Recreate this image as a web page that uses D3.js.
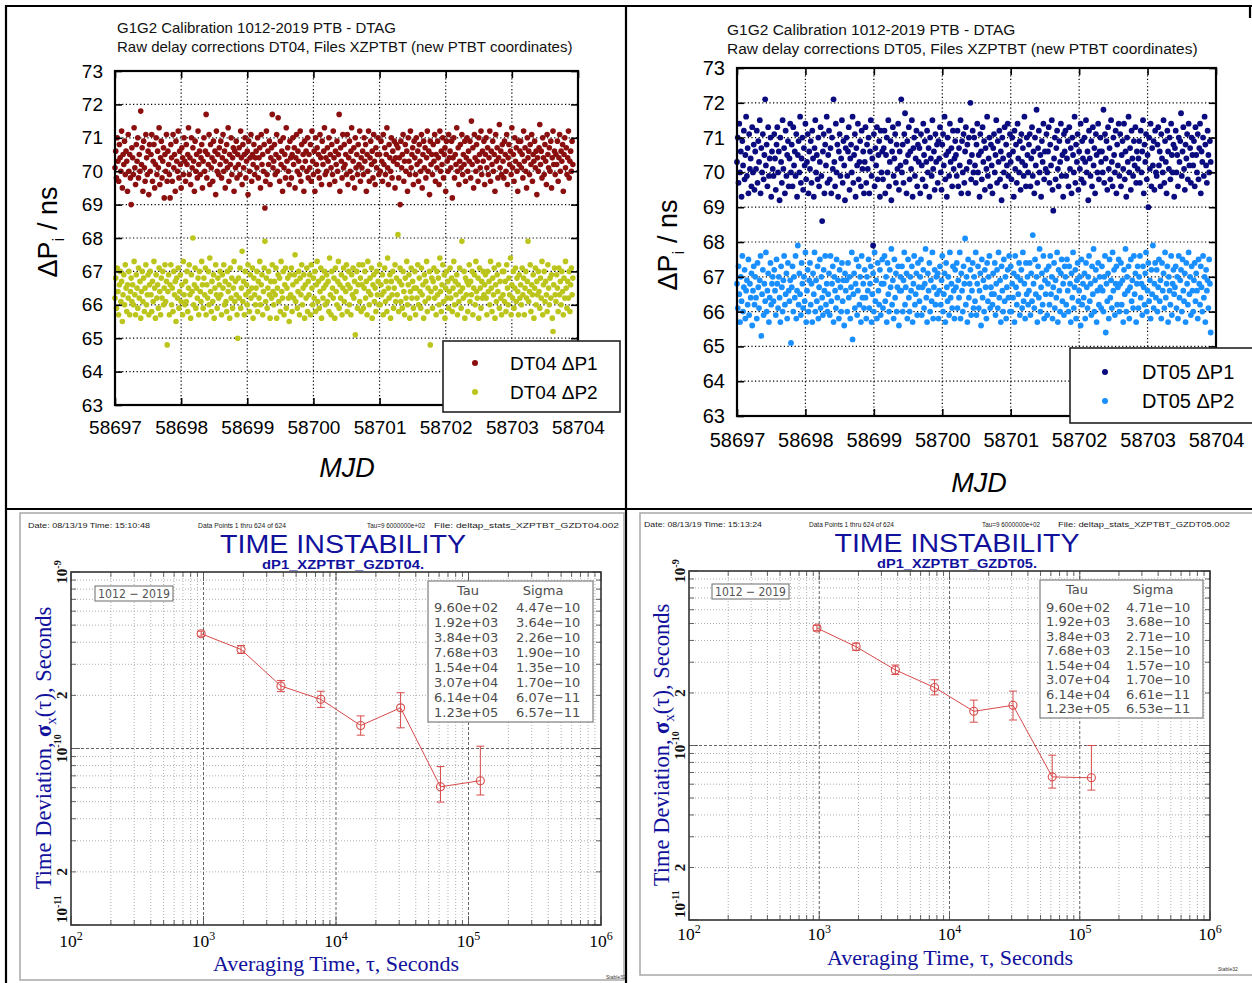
<!DOCTYPE html>
<html lang="en">
<head>
<meta charset="utf-8">
<title>G1G2 Calibration 1012-2019 PTB - DTAG</title>
<script src="https://cdn.jsdelivr.net/npm/d3@7/dist/d3.min.js"></script>
<style>
  html, body { margin: 0; padding: 0; background: #fff; }
  svg { display: block; }
</style>
</head>
<body>
<svg id="chart" width="1252" height="983"></svg>
<script>
// Raw delay corrections, one sample every 960 s from MJD 58697.0,
// stored in units of 0.1 ns.
const mjdStart = 58697;
const sampleSeconds = 960;

const dt04dP1 = [
701,706,698,710,703,697,708,704,700,712,695,705,702,709,699,706,703,694,711,700,705,698,690,707,
704,699,713,701,696,708,703,710,698,705,700,718,702,707,694,709,701,697,711,704,699,706,693,708,
700,705,711,697,703,708,695,702,710,699,706,701,713,696,704,709,698,703,707,692,705,700,711,697,
706,702,699,692,708,704,697,711,701,705,694,709,703,700,712,698,706,702,695,707,704,699,710,703,
697,708,702,705,713,699,704,696,710,701,707,703,694,709,700,705,698,712,702,706,699,704,708,695,
703,710,700,706,717,698,705,702,711,696,708,701,704,697,709,703,706,693,712,700,705,699,707,702,
709,698,704,711,700,706,695,703,708,701,713,697,705,702,710,699,704,707,694,706,701,709,698,705,
702,707,699,712,704,696,708,701,705,710,698,703,706,693,709,700,704,711,697,705,702,708,699,704,
706,701,710,698,704,707,695,711,702,705,700,708,689,697,712,699,706,702,709,696,704,707,717,701,
703,708,699,705,711,700,716,704,697,709,702,706,694,710,701,705,698,713,703,707,700,696,709,704,
698,705,710,702,707,695,704,711,700,706,703,699,712,697,708,701,705,694,709,703,706,700,710,698,
705,701,708,697,712,703,699,706,694,710,702,707,700,705,698,711,704,696,709,702,706,713,699,704,
700,707,703,710,696,705,701,708,699,712,704,697,706,702,709,700,705,717,694,707,703,698,711,701,
708,702,705,699,711,696,704,709,700,706,713,698,703,707,695,710,701,705,699,708,702,712,697,704,
701,706,699,710,703,708,694,705,700,712,697,704,709,702,706,698,711,703,696,707,701,705,710,699,
705,700,709,703,697,711,702,707,699,705,713,701,696,708,704,700,710,698,706,703,709,695,704,708,
702,707,698,704,690,709,701,705,711,697,703,708,700,706,694,710,703,699,712,701,705,707,696,709,
704,699,710,702,706,697,708,703,700,711,695,705,709,701,707,698,704,712,700,706,693,709,702,705,
699,708,703,711,697,705,701,709,704,696,712,700,706,702,710,698,705,707,694,709,703,700,711,704,
706,701,709,692,704,710,698,705,702,713,700,707,696,703,708,701,711,699,705,702,709,697,704,710,
700,706,703,709,698,715,702,707,695,711,704,700,708,703,697,710,705,701,712,699,706,703,709,696,
705,710,701,707,699,704,712,697,706,702,709,700,705,694,711,703,707,698,704,714,701,706,699,708,
703,698,709,705,700,711,696,704,708,702,706,699,713,701,705,697,710,703,707,700,694,709,702,706,
709,701,705,698,712,703,707,700,695,710,704,706,699,708,702,711,697,705,703,709,701,706,693,704,
700,707,714,702,706,698,710,704,699,708,703,696,711,705,701,707,700,709,695,704,712,702,706,699,
705,702,709,697,704,711,700,706,703,708,694,705,710,701,707,699,704,712,698,703,706,700,709,702
];

const dt04dP2 = [
662,668,659,671,664,657,666,670,661,667,655,663,669,660,672,665,658,666,662,670,657,664,668,661,
666,660,673,663,657,669,665,659,671,662,667,656,664,670,661,668,658,665,672,660,663,669,657,666,
670,663,658,667,661,673,665,656,669,662,666,659,671,664,657,668,662,670,660,665,672,661,667,648,
664,669,657,666,672,660,665,658,670,663,667,655,668,662,671,659,664,669,661,666,657,673,663,660,
667,661,670,658,665,672,663,656,669,664,680,660,666,671,659,665,662,668,657,670,664,661,673,666,
659,668,663,671,657,666,662,670,660,674,664,658,667,661,669,656,665,672,663,659,668,662,666,670,
663,657,669,665,672,660,667,661,658,670,664,666,656,671,662,668,659,665,673,661,667,663,657,650,
668,662,671,659,665,676,661,667,657,670,663,666,660,672,664,658,669,662,665,671,656,668,663,660,
665,670,658,667,662,673,660,666,669,657,664,671,679,661,668,659,665,670,663,656,667,662,672,664,
660,667,663,671,656,665,669,661,668,658,673,664,662,670,657,666,671,659,665,668,662,655,669,663,
671,658,666,662,669,675,661,667,659,664,670,657,668,663,672,660,665,669,656,666,662,671,658,667,
663,669,657,672,665,660,668,662,670,658,666,673,661,667,659,664,671,656,668,662,665,670,660,666,
669,661,667,658,674,663,657,670,665,662,668,656,671,664,660,667,673,659,666,662,669,657,665,671,
661,668,664,672,658,666,670,660,665,657,669,663,671,662,667,651,664,670,659,666,672,661,668,658,
666,672,659,665,670,662,667,657,673,664,660,668,663,671,656,666,669,661,665,658,670,663,667,660,
672,660,666,663,669,657,664,671,661,667,658,674,665,662,669,656,667,663,670,659,665,672,661,668,
663,681,658,667,671,661,666,659,670,664,657,668,662,673,660,666,669,656,664,671,662,667,659,665,
670,657,665,662,672,660,668,664,659,671,663,666,656,669,661,667,673,658,665,662,670,648,664,668,
659,667,671,662,665,657,670,663,668,660,674,664,658,666,672,661,669,656,665,670,662,667,659,664,
671,662,668,658,665,673,660,667,663,669,657,666,661,671,664,659,679,665,662,670,656,668,663,667,
658,666,672,661,667,663,670,657,665,669,660,673,664,662,668,656,671,665,659,667,662,670,663,666,
669,662,657,670,664,667,660,673,665,658,668,663,671,656,666,661,669,664,672,659,667,662,657,670,
663,670,661,667,658,672,665,660,668,663,674,657,666,662,670,659,665,671,661,668,664,657,669,662,
666,660,671,663,668,657,665,670,662,667,679,661,664,672,658,666,663,669,656,665,671,660,667,663,
670,664,659,668,662,673,657,666,670,661,667,663,658,672,665,660,668,662,669,656,652,666,671,663,
661,669,665,658,671,663,667,660,670,664,657,668,662,673,665,659,667,662,670,658,666,671,663,668
];

const dt05dP1 = [
703,710,697,714,700,706,693,709,702,712,698,705,716,699,707,694,711,701,704,696,713,700,708,695,
706,701,712,697,709,703,715,694,707,700,711,698,705,721,702,708,696,713,699,704,710,693,706,701,
699,711,704,695,708,713,700,706,692,710,703,697,715,701,707,694,712,699,705,709,696,704,714,700,
708,696,713,702,706,699,711,693,705,709,700,716,697,704,710,695,707,702,714,698,703,711,694,706,
701,709,697,712,704,693,707,715,700,705,698,710,696,703,713,699,686,706,711,694,708,702,716,697,
705,712,698,707,694,710,701,721,703,696,714,700,708,693,706,711,699,704,715,697,709,702,692,707,
710,699,706,713,695,704,708,700,716,697,705,711,693,707,702,714,698,703,709,696,712,701,706,694,
703,713,697,708,701,710,694,706,715,699,704,679,711,696,707,702,713,698,705,709,693,712,700,706,
698,707,712,694,705,710,700,715,696,703,709,692,706,713,699,704,711,697,708,701,714,695,706,702,
721,700,708,697,711,717,703,694,709,705,713,698,706,701,715,693,707,710,699,704,712,696,708,703,
707,694,711,702,698,714,705,709,696,703,712,700,707,693,710,704,699,715,701,706,695,711,703,708,
697,709,704,713,700,695,708,711,702,716,698,705,693,710,706,699,714,703,707,696,712,701,704,709,
705,699,712,696,707,702,715,694,709,700,711,697,706,713,701,708,694,710,703,720,698,705,712,700,
710,702,697,708,714,700,705,693,711,706,698,713,703,709,695,707,701,716,699,704,710,696,708,702,
694,707,711,700,705,715,697,709,703,712,698,706,692,710,704,700,713,696,708,702,714,699,705,711,
703,698,710,706,693,712,701,708,697,714,704,700,709,695,711,703,707,699,716,702,696,710,705,700,
708,711,696,704,713,699,706,694,710,702,718,697,707,712,700,705,693,709,703,714,698,706,701,711,
700,706,713,697,708,702,715,695,689,704,710,698,707,712,701,696,709,703,714,699,705,693,711,706,
712,699,704,709,696,713,701,707,694,710,705,700,716,697,708,703,711,695,706,701,714,698,709,704,
697,710,703,715,700,706,692,712,704,699,709,696,713,702,707,694,711,705,700,714,698,706,710,703,
706,700,718,697,711,704,709,695,713,701,707,698,715,703,696,710,705,700,712,694,708,702,714,699,
711,696,705,709,701,714,698,706,693,710,703,716,700,707,695,712,704,699,709,702,713,697,706,701,
704,709,697,712,700,706,715,694,708,703,711,698,705,690,710,701,714,696,707,702,709,695,712,700,
699,708,713,702,706,696,711,704,700,715,697,709,703,694,712,706,701,710,698,714,705,700,708,693,
707,712,700,705,696,710,703,709,717,699,706,713,701,695,708,704,711,698,714,702,707,697,710,705,
702,709,696,713,705,700,711,698,707,714,694,706,703,710,699,716,708,702,697,712,705,700,709,703
];

const dt05dP2 = [
668,661,673,665,657,670,663,676,660,667,672,658,666,669,662,675,659,668,664,671,656,666,673,662,
670,664,658,674,667,661,669,676,653,665,672,659,668,663,677,660,666,671,657,664,674,662,668,670,
663,672,666,659,675,668,661,670,664,657,673,667,660,669,676,662,665,671,658,674,666,663,669,651,
667,673,660,670,664,676,658,666,679,662,671,665,659,674,668,661,670,663,677,657,666,672,660,669,
674,662,668,657,671,665,677,660,669,663,673,658,667,675,661,670,664,659,672,666,676,662,668,660,
665,671,659,676,663,668,673,657,670,666,661,675,664,669,658,672,667,660,674,663,669,656,671,666,
669,660,674,664,670,658,667,677,652,665,671,661,668,675,659,666,673,662,670,657,676,664,668,661,
672,664,658,670,666,675,661,668,673,657,665,671,660,677,663,669,658,674,666,662,672,659,668,675,
661,668,676,663,670,657,674,665,660,672,667,678,662,669,658,675,664,671,660,667,673,656,666,670,
666,673,660,669,677,662,667,671,658,675,664,660,670,666,673,657,668,676,662,665,671,659,674,667,
663,670,675,659,667,672,661,668,678,664,657,671,666,674,660,669,663,677,658,667,672,662,670,665,
671,658,666,673,662,669,676,660,665,671,657,674,667,663,670,659,677,664,668,661,673,666,658,672,
667,674,661,669,664,677,658,671,666,660,673,668,681,662,670,657,675,664,668,672,659,666,674,661,
670,663,677,659,668,673,661,666,671,656,675,664,669,660,672,667,658,674,663,670,676,661,667,665,
662,671,665,674,659,668,672,661,677,664,669,657,673,666,660,675,663,670,658,667,672,664,676,660,
673,660,668,664,671,657,676,667,662,670,665,674,659,669,672,661,677,663,668,658,674,665,670,662,
666,674,659,671,663,682,668,661,675,665,670,657,673,664,678,660,667,671,662,676,658,669,665,672,
659,668,673,662,676,665,670,658,667,674,661,669,664,677,657,672,666,660,671,675,663,668,659,673,
670,662,675,666,660,673,668,657,671,664,677,661,667,672,658,669,674,663,666,670,656,675,662,668,
664,671,658,674,667,661,670,676,663,668,659,673,665,678,660,669,672,657,666,674,662,670,667,661,
673,666,660,670,676,654,668,663,671,658,675,664,669,661,677,666,672,659,668,673,662,667,675,660,
668,674,662,669,657,672,665,678,660,670,666,673,658,667,675,663,669,661,676,665,671,657,668,673,
661,670,676,664,668,659,673,667,662,671,677,660,666,674,663,669,658,672,665,679,661,668,674,664,
672,660,667,675,663,669,658,674,666,671,661,677,664,668,673,657,670,666,662,676,659,668,672,665,
667,673,661,670,658,676,664,669,672,660,675,666,663,671,657,674,668,662,677,665,670,659,673,666,
660,669,674,663,671,666,658,675,668,662,673,667,660,676,664,670,657,672,666,669,661,675,668,654
];

const mjdTicks = [58697, 58698, 58699, 58700, 58701, 58702, 58703, 58704];
const nsTicks = [63, 64, 65, 66, 67, 68, 69, 70, 71, 72, 73];

// Time deviation of dP1 from Stable32, with confidence bounds
const tauSeconds = [960, 1920, 3840, 7680, 15360, 30720, 61440, 122880];
const sigmaDT04   = [4.47e-10, 3.64e-10, 2.26e-10, 1.90e-10, 1.35e-10, 1.70e-10, 6.07e-11, 6.57e-11];
const sigmaLoDT04 = [4.33e-10, 3.46e-10, 2.10e-10, 1.71e-10, 1.19e-10, 1.31e-10, 4.97e-11, 5.45e-11];
const sigmaHiDT04 = [4.62e-10, 3.83e-10, 2.43e-10, 2.11e-10, 1.53e-10, 2.07e-10, 7.90e-11, 1.03e-10];
const sigmaDT05   = [4.71e-10, 3.68e-10, 2.71e-10, 2.15e-10, 1.57e-10, 1.70e-10, 6.61e-11, 6.53e-11];
const sigmaLoDT05 = [4.55e-10, 3.51e-10, 2.55e-10, 1.95e-10, 1.36e-10, 1.40e-10, 5.70e-11, 5.55e-11];
const sigmaHiDT05 = [4.88e-10, 3.86e-10, 2.89e-10, 2.38e-10, 1.82e-10, 2.05e-10, 8.80e-11, 1.00e-10];
const tauAxisTicks = [1e2, 1e3, 1e4, 1e5, 1e6];
const sigmaAxisTicks = [1e-11, 2e-11, 1e-10, 2e-10, 1e-9];

const SANS = '"Liberation Sans", Arial, Helvetica, sans-serif';
const NARROW = '"Liberation Sans Narrow", "Liberation Sans", Arial, sans-serif';
const SERIF = '"Liberation Serif", "Times New Roman", serif';
const TABLE_FONT = '"DejaVu Sans", "Liberation Sans", sans-serif';

const svg = d3.select('#chart');

// ---- outer panel dividers ----
const dividers = [[5, 6, 1252, 6], [6, 5, 6, 983], [626, 5, 626, 983], [5, 509, 1252, 509], [1250, 5, 1250, 18]];
svg.append('g').selectAll('line').data(dividers).join('line')
  .attr('x1', d => d[0]).attr('y1', d => d[1]).attr('x2', d => d[2]).attr('y2', d => d[3])
  .attr('stroke', '#000').attr('stroke-width', 2.2);

// ---- scatter panels (delay corrections vs MJD) ----
function scatterPanel(o) {
  const x = d3.scaleLinear().domain(d3.extent(mjdTicks)).range([o.x0, o.x1]);
  const y = d3.scaleLinear().domain(d3.extent(nsTicks)).range([o.y1, o.y0]);
  const g = svg.append('g');

  // titles
  o.titles.forEach((t, i) => {
    g.append('text').attr('x', o.titleX).attr('y', o.titleY[i])
      .attr('font-family', SANS).attr('font-size', o.titleFont).attr('fill', '#111').text(t);
  });

  // dotted grid
  g.append('g').selectAll('line').data(mjdTicks.slice(1, -1)).join('line')
    .attr('x1', d => x(d)).attr('x2', d => x(d)).attr('y1', o.y0).attr('y2', o.y1)
    .attr('stroke', '#000').attr('stroke-width', 1.2).attr('stroke-dasharray', '1.2,2.4');
  g.append('g').selectAll('line').data(nsTicks.slice(1, -1)).join('line')
    .attr('y1', d => y(d)).attr('y2', d => y(d)).attr('x1', o.x0).attr('x2', o.x1)
    .attr('stroke', '#000').attr('stroke-width', 1.2).attr('stroke-dasharray', '1.2,2.4');

  // points
  const mjdOf = i => mjdStart + i * sampleSeconds / 86400;
  o.series.forEach(s => {
    g.append('g').attr('fill', s.color).selectAll('circle').data(s.values).join('circle')
      .attr('cx', (d, i) => x(mjdOf(i))).attr('cy', d => y(d / 10)).attr('r', o.r);
  });

  // axes with inward ticks
  const fmt = d3.format('d');
  const axes = [
    g.append('g').attr('transform', `translate(0,${o.y1})`)
      .call(d3.axisBottom(x).tickValues(mjdTicks).tickFormat(fmt).tickSize(-7).tickPadding(o.xPad)),
    g.append('g').attr('transform', `translate(0,${o.y0})`)
      .call(d3.axisTop(x).tickValues(mjdTicks).tickFormat('').tickSize(-7)),
    g.append('g').attr('transform', `translate(${o.x0},0)`)
      .call(d3.axisLeft(y).tickValues(nsTicks).tickFormat(fmt).tickSize(-7).tickPadding(12)),
    g.append('g').attr('transform', `translate(${o.x1},0)`)
      .call(d3.axisRight(y).tickValues(nsTicks).tickFormat('').tickSize(-7))
  ];
  axes.forEach(a => {
    a.attr('font-family', SANS).attr('font-size', o.tickFont);
    a.select('.domain').remove();
    a.selectAll('.tick line').attr('stroke', '#000').attr('stroke-width', 1.6);
    a.selectAll('.tick text').attr('fill', '#000');
  });

  // frame
  g.append('rect').attr('x', o.x0).attr('y', o.y0).attr('width', o.x1 - o.x0).attr('height', o.y1 - o.y0)
    .attr('fill', 'none').attr('stroke', '#000').attr('stroke-width', 2.2);

  // y-axis label  ΔP_i / ns
  const yl = g.append('text')
    .attr('transform', `translate(${o.ylX},${o.ylY}) rotate(-90)`)
    .attr('text-anchor', 'middle').attr('font-family', SANS).attr('font-size', 27).attr('fill', '#000');
  yl.append('tspan').text('\u0394P');
  yl.append('tspan').attr('font-size', 17).attr('dy', 7).text('i');
  yl.append('tspan').attr('dy', -7).text(' / ns');

  // x-axis label
  g.append('text').attr('x', o.mjdX).attr('y', o.mjdY).attr('text-anchor', 'middle')
    .attr('font-family', SANS).attr('font-style', 'italic').attr('font-size', 27).attr('fill', '#000')
    .text('MJD');

  // legend
  const L = o.legend;
  const lg = g.append('g');
  lg.append('rect').attr('x', L.x).attr('y', L.y).attr('width', L.w).attr('height', L.h)
    .attr('fill', '#fff').attr('stroke', '#222').attr('stroke-width', 1.6);
  o.series.forEach((s, i) => {
    lg.append('circle').attr('cx', L.dotX).attr('cy', L.rows[i]).attr('r', 3).attr('fill', s.color);
    lg.append('text').attr('x', L.textX).attr('y', L.rows[i]).attr('dy', '0.36em')
      .attr('font-family', SANS).attr('font-size', L.font).attr('fill', '#000').text(s.name);
  });
}

scatterPanel({
  x0: 115, x1: 578, y0: 71, y1: 405, r: 2.8, tickFont: 19, xPad: 16,
  titles: ['G1G2 Calibration 1012-2019 PTB - DTAG',
           'Raw delay corrections DT04, Files XZPTBT (new PTBT coordinates)'],
  titleX: 117, titleY: [33, 52], titleFont: 15,
  ylX: 57, ylY: 232, mjdX: 347, mjdY: 477,
  series: [
    { name: 'DT04 \u0394P1', color: '#8b0f0f', values: dt04dP1 },
    { name: 'DT04 \u0394P2', color: '#bcc51c', values: dt04dP2 }
  ],
  legend: { x: 443, y: 341, w: 177, h: 71, dotX: 475, rows: [363, 392], textX: 510, font: 19 }
});

scatterPanel({
  x0: 737, x1: 1216, y0: 68, y1: 416, r: 2.9, tickFont: 20, xPad: 17,
  titles: ['G1G2 Calibration 1012-2019 PTB - DTAG',
           'Raw delay corrections DT05, Files XZPTBT (new PTBT coordinates)'],
  titleX: 727, titleY: [35, 54], titleFont: 15.5,
  ylX: 677, ylY: 245, mjdX: 979, mjdY: 492,
  series: [
    { name: 'DT05 \u0394P1', color: '#0b0b80', values: dt05dP1 },
    { name: 'DT05 \u0394P2', color: '#1a8fff', values: dt05dP2 }
  ],
  legend: { x: 1070, y: 348, w: 190, h: 75, dotX: 1105, rows: [372, 401], textX: 1142, font: 20 }
});

// ---- time-deviation panels (Stable32 style) ----
const expFmt = v => {
  const [m, e] = v.toExponential(2).split('e');
  const sign = e[0] === '-' ? '\u2212' : '+';
  return m + 'e' + sign + e.replace(/[+-]/, '').padStart(2, '0');
};
const isDecade = v => Math.abs(Math.log10(v) - Math.round(Math.log10(v))) < 1e-9;

function stabilityPanel(o) {
  const x = d3.scaleLog().domain(d3.extent(tauAxisTicks)).range([o.x0, o.x1]);
  const y = d3.scaleLog().domain(d3.extent(sigmaAxisTicks)).range([o.y1, o.y0]);
  const g = svg.append('g');
  const blue = '#11119c';

  // image frame
  g.append('rect').attr('x', o.frame[0]).attr('y', o.frame[1]).attr('width', o.frame[2]).attr('height', o.frame[3])
    .attr('fill', '#fff').attr('stroke', '#a8a8a8').attr('stroke-width', 1.5);

  // header line
  o.header.forEach(h => {
    g.append('text').attr('x', h[0]).attr('y', o.headerY).attr('font-family', SANS).attr('font-size', 7)
      .attr('textLength', h[1]).attr('lengthAdjust', 'spacingAndGlyphs').attr('fill', '#222').text(h[2]);
  });

  // title block
  g.append('text').attr('x', o.titleX).attr('y', o.titleY).attr('text-anchor', 'middle')
    .attr('font-family', NARROW).attr('font-size', 26).attr('fill', blue)
    .attr('textLength', o.titleW).attr('lengthAdjust', 'spacingAndGlyphs').text('TIME INSTABILITY');
  g.append('text').attr('x', o.titleX).attr('y', o.subY).attr('text-anchor', 'middle')
    .attr('font-family', NARROW).attr('font-weight', 'bold').attr('font-size', 12.5).attr('fill', blue)
    .attr('textLength', o.subW).attr('lengthAdjust', 'spacingAndGlyphs').text(o.subText);

  const xt = x.ticks(), yt = y.ticks();
  // minor grid
  g.append('g').selectAll('line').data(xt.filter(v => !isDecade(v))).join('line')
    .attr('x1', d => x(d)).attr('x2', d => x(d)).attr('y1', o.y0).attr('y2', o.y1)
    .attr('stroke', '#9a9a9a').attr('stroke-width', 0.8).attr('stroke-dasharray', '1,2');
  g.append('g').selectAll('line').data(yt.filter(v => !isDecade(v))).join('line')
    .attr('y1', d => y(d)).attr('y2', d => y(d)).attr('x1', o.x0).attr('x2', o.x1)
    .attr('stroke', '#9a9a9a').attr('stroke-width', 0.8).attr('stroke-dasharray', '1,2');
  // decade grid
  g.append('g').selectAll('line').data(tauAxisTicks.slice(1, -1)).join('line')
    .attr('x1', d => x(d)).attr('x2', d => x(d)).attr('y1', o.y0).attr('y2', o.y1)
    .attr('stroke', '#555').attr('stroke-width', 0.9).attr('stroke-dasharray', '3,2');
  g.append('g').selectAll('line').data([1e-10]).join('line')
    .attr('y1', d => y(d)).attr('y2', d => y(d)).attr('x1', o.x0).attr('x2', o.x1)
    .attr('stroke', '#555').attr('stroke-width', 0.9).attr('stroke-dasharray', '3,2');

  // inward ticks on all four sides
  const tk = g.append('g').attr('stroke', '#555').attr('stroke-width', 0.9);
  xt.forEach(v => {
    const L = isDecade(v) ? 9 : 5;
    tk.append('line').attr('x1', x(v)).attr('x2', x(v)).attr('y1', o.y1).attr('y2', o.y1 - L);
    tk.append('line').attr('x1', x(v)).attr('x2', x(v)).attr('y1', o.y0).attr('y2', o.y0 + L);
  });
  yt.forEach(v => {
    const L = isDecade(v) ? 9 : 5;
    tk.append('line').attr('y1', y(v)).attr('y2', y(v)).attr('x1', o.x0).attr('x2', o.x0 + L);
    tk.append('line').attr('y1', y(v)).attr('y2', y(v)).attr('x1', o.x1).attr('x2', o.x1 - L);
  });

  // plot frame
  g.append('rect').attr('x', o.x0).attr('y', o.y0).attr('width', o.x1 - o.x0).attr('height', o.y1 - o.y0)
    .attr('fill', 'none').attr('stroke', '#333').attr('stroke-width', 1.6);

  // x tick labels 10^n
  tauAxisTicks.forEach(v => {
    const t = g.append('text').attr('x', x(v)).attr('y', o.xLabelY).attr('text-anchor', 'middle')
      .attr('font-family', SERIF).attr('font-size', 17.5).attr('fill', '#000');
    t.append('tspan').text('10');
    t.append('tspan').attr('font-size', 12).attr('dy', -7).text(String(Math.round(Math.log10(v))));
  });

  // y tick labels (rotated)
  sigmaAxisTicks.forEach((v, i) => {
    const last = i === 0;
    const yy = last ? o.y1 - 2 : y(v);
    const t = g.append('text')
      .attr('transform', `translate(${o.yLabelX},${yy}) rotate(-90)`)
      .attr('text-anchor', last ? 'start' : 'middle')
      .attr('font-family', SERIF).attr('font-weight', 'bold').attr('font-size', 15).attr('fill', '#111');
    if (isDecade(v)) {
      t.append('tspan').text('10');
      t.append('tspan').attr('font-size', 10).attr('dy', -6).text(String(Math.round(Math.log10(v))));
    } else {
      t.text(String(Math.round(v / Math.pow(10, Math.floor(Math.log10(v))))));
    }
  });

  // axis titles
  const yt2 = g.append('text')
    .attr('transform', `translate(${o.yTitleX},${o.yTitleY}) rotate(-90)`)
    .attr('text-anchor', 'middle').attr('font-family', SERIF).attr('font-size', 22.5).attr('fill', blue);
  yt2.append('tspan').text('Time  Deviation, ');
  yt2.append('tspan').attr('font-weight', 'bold').text('\u03c3');
  yt2.append('tspan').attr('font-size', 15).attr('dy', 5).text('x');
  yt2.append('tspan').attr('dy', -5).text('(\u03c4),  Seconds');

  g.append('text').attr('x', o.xTitleX).attr('y', o.xTitleY).attr('text-anchor', 'middle')
    .attr('font-family', SERIF).attr('font-size', 22).attr('fill', blue)
    .text('Averaging  Time,  \u03c4,  Seconds');

  // "1012-2019" tag
  g.append('rect').attr('x', o.tag[0]).attr('y', o.tag[1]).attr('width', o.tag[2]).attr('height', o.tag[3])
    .attr('fill', '#fff').attr('stroke', '#777').attr('stroke-width', 1.1);
  g.append('text').attr('x', o.tag[0] + o.tag[2] / 2).attr('y', o.tag[1] + o.tag[3] / 2).attr('dy', '0.36em')
    .attr('text-anchor', 'middle').attr('font-family', TABLE_FONT)
    .attr('font-size', 12.5).attr('fill', '#555')
    .attr('textLength', o.tag[2] - 6).attr('lengthAdjust', 'spacingAndGlyphs').text('1012 \u2212 2019');

  // Tau / Sigma table
  const T = o.table;
  g.append('rect').attr('x', T.x).attr('y', T.y).attr('width', T.w).attr('height', T.h)
    .attr('fill', '#fff').attr('stroke', '#888').attr('stroke-width', 1.3);
  const tcell = (xx, yy, txt, anchor) => g.append('text').attr('x', xx).attr('y', yy).attr('dy', '0.36em')
    .attr('text-anchor', anchor).attr('font-family', TABLE_FONT)
    .attr('font-size', 13).attr('fill', '#4d4d4d').text(txt);
  tcell(T.tauX, T.headY, 'Tau', 'middle');
  tcell(T.sigX, T.headY, 'Sigma', 'middle');
  tauSeconds.forEach((tau, i) => {
    tcell(T.c1, T.rowY0 + i * T.rowDy, expFmt(tau), 'start');
    tcell(T.c2, T.rowY0 + i * T.rowDy, expFmt(o.sigma[i]), 'start');
  });

  // data: line, error bars, open circles
  const red = '#d84a4a';
  const pts = tauSeconds.map((t, i) => ({ t, s: o.sigma[i], lo: o.lo[i], hi: o.hi[i] }));
  g.append('path').datum(pts)
    .attr('d', d3.line().x(d => x(d.t)).y(d => y(d.s)))
    .attr('fill', 'none').attr('stroke', red).attr('stroke-width', 1);
  const eb = g.append('g').attr('stroke', red).attr('stroke-width', 1);
  pts.forEach(d => {
    const cx = x(d.t);
    eb.append('line').attr('x1', cx).attr('x2', cx).attr('y1', y(d.lo)).attr('y2', y(d.hi));
    eb.append('line').attr('x1', cx - 4).attr('x2', cx + 4).attr('y1', y(d.lo)).attr('y2', y(d.lo));
    eb.append('line').attr('x1', cx - 4).attr('x2', cx + 4).attr('y1', y(d.hi)).attr('y2', y(d.hi));
  });
  g.append('g').selectAll('circle').data(pts).join('circle')
    .attr('cx', d => x(d.t)).attr('cy', d => y(d.s)).attr('r', 4)
    .attr('fill', 'none').attr('stroke', red).attr('stroke-width', 1.1);

  // program tag
  g.append('text').attr('x', o.stable[0]).attr('y', o.stable[1]).attr('font-family', SANS)
    .attr('font-size', 5).attr('fill', '#333').text('Stable32');
}

stabilityPanel({
  x0: 71, x1: 601, y0: 572, y1: 925,
  frame: [20, 513, 604, 467],
  headerY: 527.5,
  header: [[28, 122, 'Date: 08/13/19   Time: 15:10:48'], [198, 88, 'Data Points 1 thru 624 of 624'],
           [367, 58, 'Tau=9 6000000e+02'], [434, 185, 'File: deltap_stats_XZPTBT_GZDT04.002']],
  titleX: 343, titleY: 553, titleW: 246, subY: 569, subW: 162, subText: 'dP1_XZPTBT_GZDT04.',
  xLabelY: 947, yLabelX: 67, yTitleX: 51, yTitleY: 748, xTitleX: 336, xTitleY: 971,
  tag: [95, 586, 78, 15],
  table: { x: 428, y: 581, w: 165, h: 141, headY: 590, rowY0: 607, rowDy: 15, c1: 434, c2: 516, tauX: 468, sigX: 543 },
  sigma: sigmaDT04, lo: sigmaLoDT04, hi: sigmaHiDT04,
  stable: [606, 979]
});

stabilityPanel({
  x0: 689, x1: 1210, y0: 571, y1: 920,
  frame: [640, 513, 613, 462],
  headerY: 527,
  header: [[644, 118, 'Date: 08/13/19   Time: 15:13:24'], [809, 85, 'Data Points 1 thru 624 of 624'],
           [982, 58, 'Tau=9 6000000e+02'], [1058, 172, 'File: deltap_stats_XZPTBT_GZDT05.002']],
  titleX: 957, titleY: 552, titleW: 245, subY: 568, subW: 160, subText: 'dP1_XZPTBT_GZDT05.',
  xLabelY: 940, yLabelX: 685, yTitleX: 669, yTitleY: 745, xTitleX: 950, xTitleY: 965,
  tag: [712, 584, 77, 15],
  table: { x: 1040, y: 580, w: 163, h: 138, headY: 589, rowY0: 607, rowDy: 14.5, c1: 1046, c2: 1126, tauX: 1077, sigX: 1153 },
  sigma: sigmaDT05, lo: sigmaLoDT05, hi: sigmaHiDT05,
  stable: [1218, 971]
});
</script>
</body>
</html>
